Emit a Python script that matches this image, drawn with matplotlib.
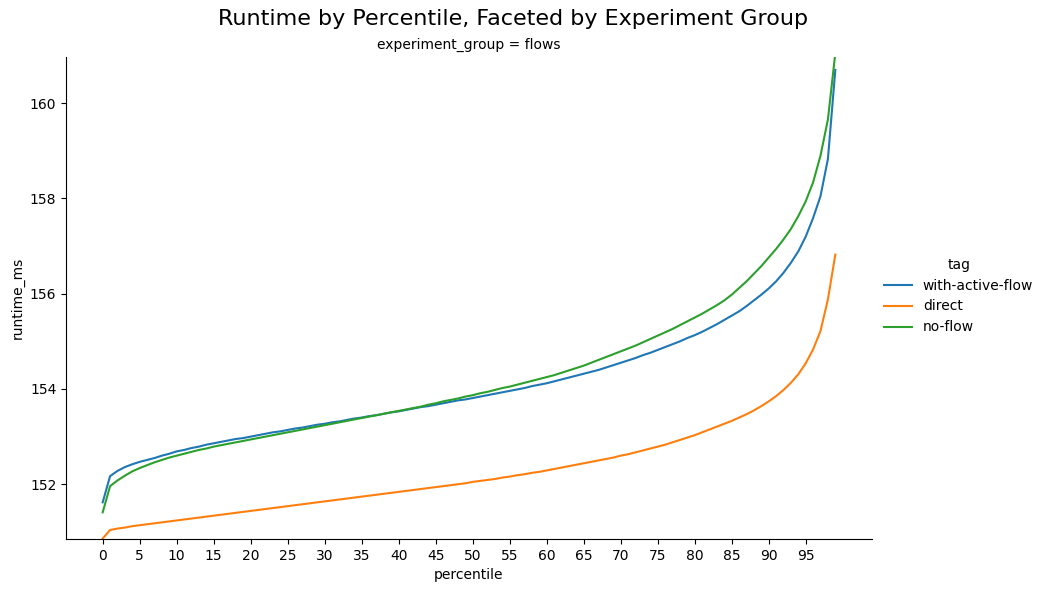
"""Runtime by percentile for the 'flows' experiment group."""

import matplotlib

matplotlib.use("Agg")
import matplotlib.pyplot as plt


PERCENTILES = list(range(100))
TAGS = ["with-active-flow", "direct", "no-flow"]
COLORS = ["#1f77b4", "#ff7f0e", "#2ca02c"]

WITH_ACTIVE_FLOW = [
    151.62, 152.17, 152.28, 152.36, 152.42, 152.47, 152.51, 152.55, 152.60, 152.64,
    152.69, 152.72, 152.76, 152.79, 152.83, 152.86, 152.89, 152.92, 152.95, 152.97,
    153.00, 153.03, 153.06, 153.09, 153.11, 153.14, 153.17, 153.19, 153.22, 153.25,
    153.27, 153.30, 153.32, 153.35, 153.38, 153.40, 153.43, 153.45, 153.48, 153.51,
    153.53, 153.56, 153.59, 153.62, 153.64, 153.67, 153.70, 153.73, 153.76, 153.78,
    153.81, 153.84, 153.87, 153.90, 153.93, 153.96, 153.99, 154.02, 154.06, 154.09,
    154.12, 154.16, 154.20, 154.24, 154.28, 154.32, 154.36, 154.40, 154.45, 154.50,
    154.55, 154.60, 154.65, 154.71, 154.76, 154.82, 154.88, 154.94, 155.00, 155.07,
    155.13, 155.20, 155.28, 155.36, 155.45, 155.54, 155.63, 155.74, 155.86, 155.98,
    156.11, 156.26, 156.44, 156.65, 156.89, 157.20, 157.59, 158.05, 158.83, 160.70,
]

DIRECT = [
    150.86, 151.04, 151.07, 151.09, 151.12, 151.14, 151.16, 151.18, 151.20, 151.22,
    151.24, 151.26, 151.28, 151.30, 151.32, 151.34, 151.36, 151.38, 151.40, 151.42,
    151.44, 151.46, 151.48, 151.50, 151.52, 151.54, 151.56, 151.58, 151.60, 151.62,
    151.64, 151.66, 151.68, 151.70, 151.72, 151.74, 151.76, 151.78, 151.80, 151.82,
    151.84, 151.86, 151.88, 151.90, 151.92, 151.94, 151.96, 151.98, 152.00, 152.02,
    152.05, 152.07, 152.09, 152.11, 152.14, 152.16, 152.19, 152.21, 152.24, 152.26,
    152.29, 152.32, 152.35, 152.38, 152.41, 152.44, 152.47, 152.50, 152.53, 152.56,
    152.60, 152.63, 152.67, 152.71, 152.75, 152.79, 152.83, 152.88, 152.93, 152.98,
    153.03, 153.09, 153.15, 153.21, 153.27, 153.33, 153.40, 153.47, 153.55, 153.64,
    153.74, 153.85, 153.98, 154.13, 154.31, 154.54, 154.83, 155.22, 155.88, 156.82,
]

NO_FLOW = [
    151.41, 151.96, 152.08, 152.18, 152.27, 152.34, 152.40, 152.46, 152.51, 152.56,
    152.60, 152.64, 152.68, 152.72, 152.75, 152.79, 152.82, 152.85, 152.88, 152.91,
    152.94, 152.97, 153.00, 153.03, 153.06, 153.09, 153.12, 153.15, 153.18, 153.21,
    153.24, 153.27, 153.30, 153.33, 153.36, 153.39, 153.42, 153.45, 153.48, 153.51,
    153.54, 153.57, 153.60, 153.63, 153.67, 153.70, 153.74, 153.77, 153.80, 153.84,
    153.87, 153.91, 153.94, 153.98, 154.02, 154.05, 154.09, 154.13, 154.17, 154.21,
    154.25, 154.29, 154.34, 154.39, 154.44, 154.49, 154.55, 154.61, 154.67, 154.73,
    154.79, 154.85, 154.91, 154.98, 155.05, 155.12, 155.19, 155.26, 155.34, 155.42,
    155.50, 155.58, 155.67, 155.76, 155.86, 155.98, 156.12, 156.26, 156.42, 156.58,
    156.76, 156.94, 157.14, 157.36, 157.63, 157.94, 158.34, 158.90, 159.66, 161.05,
]

SERIES = [WITH_ACTIVE_FLOW, DIRECT, NO_FLOW]


def main() -> None:
    fig = plt.figure(figsize=(10.45, 5.92), dpi=100)
    ax = fig.add_axes([0.0632, 0.0895, 0.7712, 0.8142])

    for tag, values, color in zip(TAGS, SERIES, COLORS):
        ax.plot(PERCENTILES, values, color=color, linewidth=1.5, label=tag)

    ax.set_xticks(list(range(0, 100, 5)))
    ax.set_ylim(150.85, 160.97)
    ax.set_xlabel("percentile")
    ax.set_ylabel("runtime_ms")
    ax.set_title("experiment_group = flows", fontsize=10)
    ax.spines["top"].set_visible(False)
    ax.spines["right"].set_visible(False)

    fig.legend(
        title="tag",
        loc="center left",
        bbox_to_anchor=(0.834, 0.5),
        frameon=False,
        fontsize=10,
        title_fontsize=10,
    )
    fig.suptitle(
        "Runtime by Percentile, Faceted by Experiment Group",
        fontsize=16,
        x=0.491,
        y=0.985,
    )
    fig.savefig("out.png", dpi=100)
    plt.close(fig)


if __name__ == "__main__":
    main()
